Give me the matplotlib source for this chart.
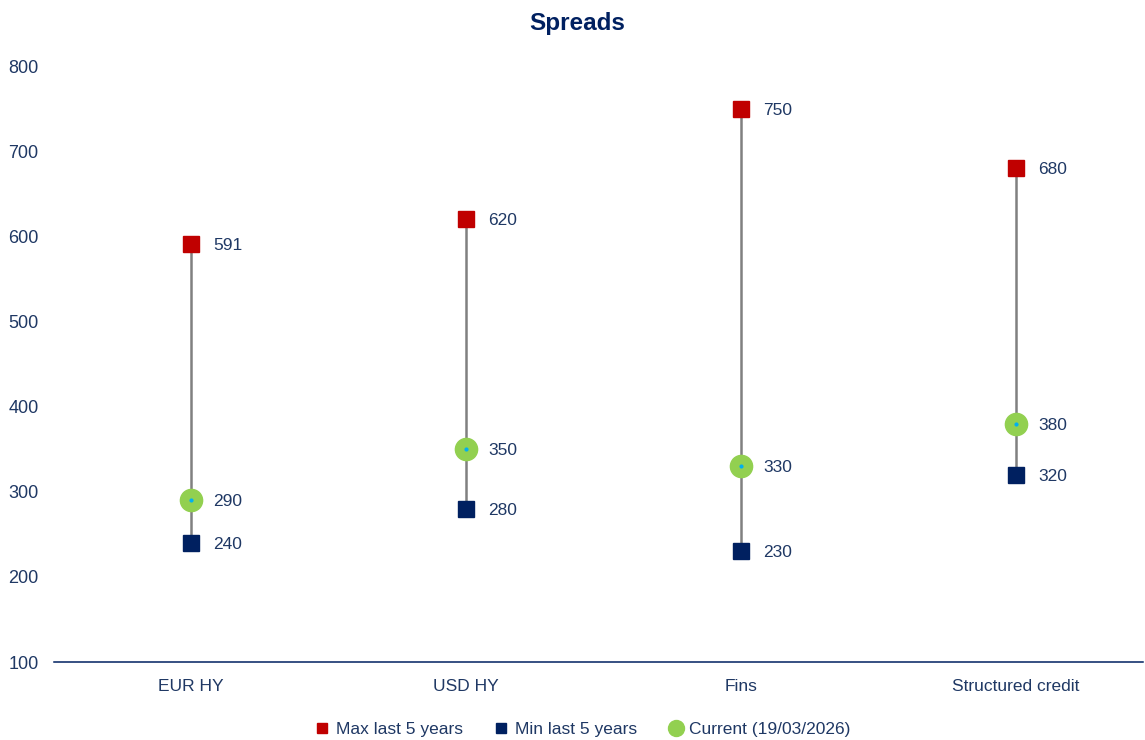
import matplotlib.pyplot as plt
from matplotlib.lines import Line2D

plt.rcParams['font.family'] = ['Liberation Sans', 'DejaVu Sans']

categories = ["EUR HY", "USD HY", "Fins", "Structured credit"]
max_5y = [591, 620, 750, 680]
min_5y = [240, 280, 230, 320]
current = [290, 350, 330, 380]
yticks = [100, 200, 300, 400, 500, 600, 700, 800]

navy = "#002060"
red = "#C00000"
green = "#92D050"
text_col = "#1F3864"

fig = plt.figure(figsize=(11.45, 7.4), dpi=100)
ax = fig.add_axes([0.047, 0.1054, 0.951, 0.8054])

xs = list(range(len(categories)))

#range lines
ax.vlines(xs, min_5y, max_5y, color="#808080", lw=1.8, zorder=1)

#markers
ax.plot(xs, max_5y, "s", color=red, ms=11.5, ls="none", zorder=3)
ax.plot(xs, min_5y, "s", color=navy, ms=11.5, ls="none", zorder=3)
ax.plot(xs, current, "o", color=green, ms=16, ls="none", zorder=3)
ax.plot(xs, current, "o", color="#00B0F0", ms=2, ls="none", zorder=4)

#value labels
for x, a, b, c in zip(xs, max_5y, min_5y, current):
    for v in (a, b, c):
        ax.annotate(str(v), (x, v), xytext=(16, 0), textcoords="offset points",
                    va="center_baseline", ha="left", fontsize=12.5, color=text_col)

ax.set_xlim(-0.498, 3.46)
ax.set_ylim(100, 800)
ax.set_yticks(yticks)
ax.set_xticks(xs)
ax.set_xticklabels(categories)
ax.tick_params(axis="both", length=0, labelcolor=text_col)
ax.tick_params(axis="y", pad=11, labelsize=13)
ax.tick_params(axis="x", pad=12, labelsize=12.5)
for s in ["top", "right", "left"]:
    ax.spines[s].set_visible(False)
ax.spines["bottom"].set_color(navy)
ax.spines["bottom"].set_linewidth(1.1)

fig.suptitle("Spreads", y=0.984, x=0.504, fontsize=17.5, fontweight="bold", color=navy)

handles = [
    Line2D([], [], marker="s", color=red, ls="none", ms=7.5),
    Line2D([], [], marker="s", color=navy, ls="none", ms=7.5),
    Line2D([], [], marker="o", color=green, ls="none", ms=11.5),
]
fig.legend(handles, ["Max last 5 years", "Min last 5 years", "Current (19/03/2026)"],
           loc="center", bbox_to_anchor=(0.507, 0.014), ncol=3, frameon=False,
           fontsize=12.5, labelcolor=text_col, handletextpad=0.1, handlelength=1.4,
           columnspacing=1.5)

plt.savefig("out.png", dpi=100)
